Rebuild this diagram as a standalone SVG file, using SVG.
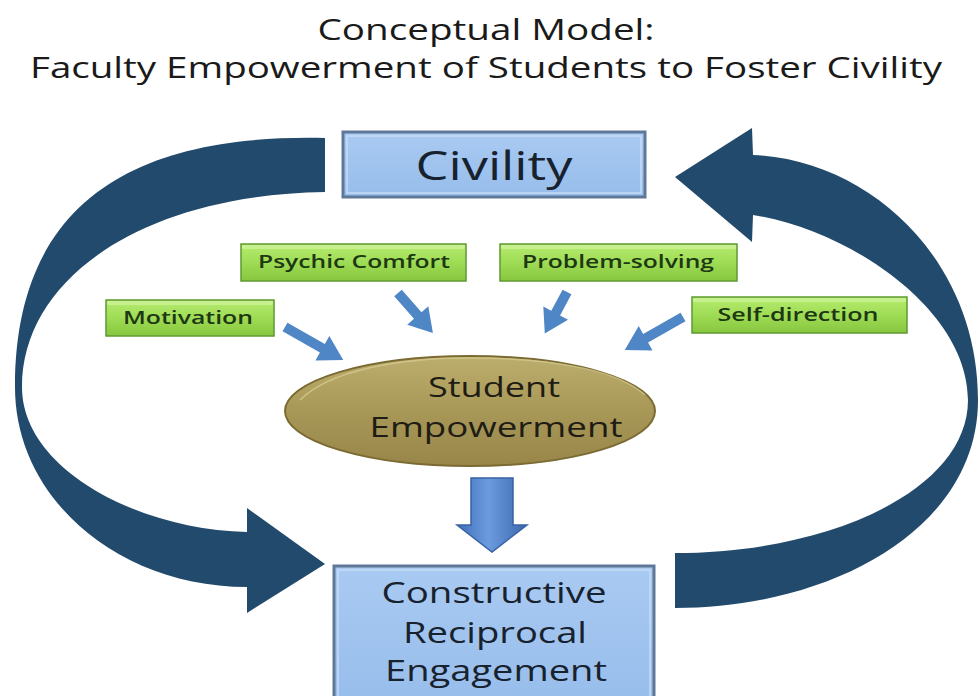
<svg xmlns="http://www.w3.org/2000/svg" width="979" height="696" viewBox="0 0 979 696">
  <defs>
    <linearGradient id="gBlueBox" x1="0" y1="0" x2="0" y2="1">
      <stop offset="0" stop-color="#a9caf2"/>
      <stop offset="1" stop-color="#97bdeb"/>
    </linearGradient>
    <linearGradient id="gGreen" x1="0" y1="0" x2="0" y2="1">
      <stop offset="0" stop-color="#b6ec70"/>
      <stop offset="0.5" stop-color="#9fdc55"/>
      <stop offset="1" stop-color="#86c63e"/>
    </linearGradient>
    <linearGradient id="gOlive" x1="0" y1="0" x2="0" y2="1">
      <stop offset="0" stop-color="#bcae6c"/>
      <stop offset="0.5" stop-color="#a89858"/>
      <stop offset="1" stop-color="#978648"/>
    </linearGradient>
    <linearGradient id="gDown" x1="0" y1="0" x2="1" y2="0">
      <stop offset="0" stop-color="#3f70b8"/>
      <stop offset="0.45" stop-color="#6c9be0"/>
      <stop offset="1" stop-color="#3a67ad"/>
    </linearGradient>
    <style>
      .title { font-family: "Open Sans", "Noto Sans", sans-serif; font-size: 29px; fill: #1a1a1a; text-anchor: middle; }
      .boxrect { fill: url(#gBlueBox); stroke: #5f7898; stroke-width: 3; }
      .boxinner { fill: none; stroke: #c6dbf6; stroke-width: 1.5; }
      .boxtext { font-family: "Open Sans", "Noto Sans", sans-serif; fill: #17222e; text-anchor: middle; }
      .tag { fill: url(#gGreen); stroke: #5e9a30; stroke-width: 1.5; }
      .tagshade { fill: none; stroke: #d9f7b0; stroke-width: 1; }
      .tagtext { font-family: "Open Sans", "Noto Sans", sans-serif; font-weight: 600; font-size: 18px; fill: #1d3812; text-anchor: middle; }
      .loop { fill: #224a6c; }
      .feed { fill: #4f86c6; }
      .ell { fill: url(#gOlive); stroke: #7b6b33; stroke-width: 2; }
      .elltext { font-family: "Open Sans", "Noto Sans", sans-serif; font-size: 28px; fill: #1e1c14; text-anchor: middle; }
    </style>
  </defs>

  <rect width="979" height="696" fill="#ffffff"/>

  <!-- heading -->
  <g id="title">
    <text class="title" x="486" y="40" textLength="337" lengthAdjust="spacingAndGlyphs">Conceptual Model:</text>
    <text class="title" x="486" y="78" textLength="912" lengthAdjust="spacingAndGlyphs">Faculty Empowerment of Students to Foster Civility</text>
  </g>

  <!-- connectors -->
  <g id="connectors">
    <!-- loop from Civility down the left side into Constructive Reciprocal Engagement -->
    <path class="loop" d="M325,138 C150,134 15,190 15,387 C15,500 120,587 247,587 L247,613 L325,564 L247,508 L247,532 C140,530 22,470 22,387 C22,280 140,195 325,192 Z"/>
    <!-- loop from Constructive Reciprocal Engagement up the right side back to Civility -->
    <path class="loop" d="M675,608 C830,608 978,530 978,400 C978,260 870,160 753,155 L752,128 L675,177 L752,242 L753,215 C850,230 968,310 968,400 C968,490 830,553 675,553 Z"/>

    <!-- feeders into Student Empowerment -->
    <path class="feed" transform="translate(285,327) rotate(29.6)" d="M0,-5 H43 V-14 L67,0 L43,14 V5 H0 Z"/>
    <path class="feed" transform="translate(398,293) rotate(48.8)" d="M0,-5 H30 V-14 L53,0 L30,14 V5 H0 Z"/>
    <path class="feed" transform="translate(567,292) rotate(118.2)" d="M0,-5 H24 V-14 L47,0 L24,14 V5 H0 Z"/>
    <path class="feed" transform="translate(683,317) rotate(150.4)" d="M0,-5 H43 V-14 L67,0 L43,14 V5 H0 Z"/>

    <!-- Student Empowerment to Constructive Reciprocal Engagement -->
    <path d="M471,478 H513 V525 H527 L492,552 L457,525 H471 Z" fill="url(#gDown)" stroke="#3862a3" stroke-width="1.5"/>
  </g>

  <g id="civility">
    <rect class="boxrect" x="343" y="132" width="302" height="65"/>
    <rect class="boxinner" x="347" y="136" width="294" height="57"/>
    <text class="boxtext" x="494" y="180" font-size="40" textLength="157" lengthAdjust="spacingAndGlyphs">Civility</text>
  </g>

  <g id="psychic-comfort">
    <rect class="tag" x="241" y="244" width="225" height="37"/>
    <rect class="tagshade" x="243" y="246" width="221" height="2"/>
    <text class="tagtext" x="354" y="268" textLength="192" lengthAdjust="spacingAndGlyphs">Psychic Comfort</text>
  </g>

  <g id="motivation">
    <rect class="tag" x="106" y="300" width="168" height="36"/>
    <rect class="tagshade" x="108" y="302" width="164" height="2"/>
    <text class="tagtext" x="188" y="324" textLength="130" lengthAdjust="spacingAndGlyphs">Motivation</text>
  </g>

  <g id="problem-solving">
    <rect class="tag" x="500" y="244" width="237" height="37"/>
    <rect class="tagshade" x="502" y="246" width="233" height="2"/>
    <text class="tagtext" x="618" y="268" textLength="192" lengthAdjust="spacingAndGlyphs">Problem-solving</text>
  </g>

  <g id="self-direction">
    <rect class="tag" x="692" y="297" width="215" height="36"/>
    <rect class="tagshade" x="694" y="299" width="211" height="2"/>
    <text class="tagtext" x="798" y="321" textLength="161" lengthAdjust="spacingAndGlyphs">Self-direction</text>
  </g>

  <g id="student-empowerment">
    <ellipse class="ell" cx="470" cy="411" rx="185" ry="55"/>
    <path d="M300,400 C330,370 400,358 470,358 C560,358 620,372 645,395" fill="none" stroke="#d6c98e" stroke-width="1.5" opacity="0.8"/>
    <text class="elltext" x="494" y="397" textLength="132" lengthAdjust="spacingAndGlyphs">Student</text>
    <text class="elltext" x="496" y="437" textLength="253" lengthAdjust="spacingAndGlyphs">Empowerment</text>
  </g>

  <g id="constructive-reciprocal-engagement">
    <rect class="boxrect" x="334" y="566" width="320" height="140"/>
    <rect class="boxinner" x="338" y="570" width="312" height="140"/>
    <text class="boxtext" x="494" y="603" font-size="29" textLength="225" lengthAdjust="spacingAndGlyphs">Constructive</text>
    <text class="boxtext" x="495" y="643" font-size="29" textLength="184" lengthAdjust="spacingAndGlyphs">Reciprocal</text>
    <text class="boxtext" x="496" y="681" font-size="29" textLength="222" lengthAdjust="spacingAndGlyphs">Engagement</text>
  </g>
</svg>
